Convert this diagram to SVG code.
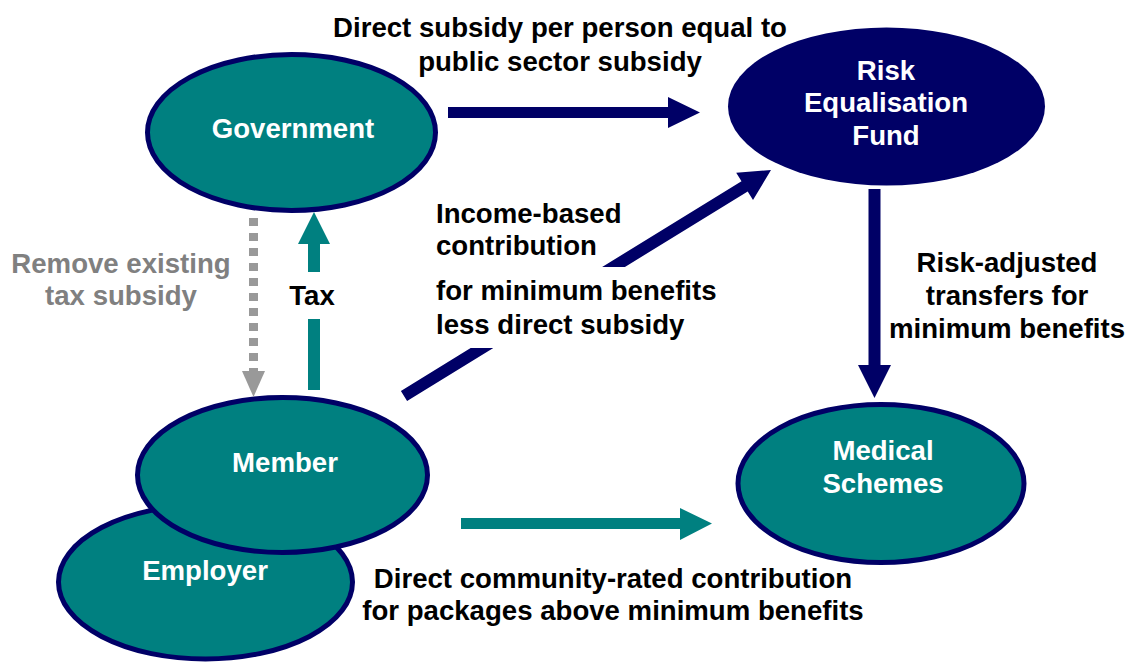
<svg xmlns="http://www.w3.org/2000/svg" width="1128" height="662" viewBox="0 0 1128 662">
<style>
text{font-family:"Liberation Sans",Arial,sans-serif;font-weight:bold;font-size:27.6px}
.w{fill:#ffffff}
.k{fill:#000000}
.g{fill:#808080}
.m{text-anchor:middle}
.teal{fill:#008080;stroke:#000066;stroke-width:5}
.navy{fill:#000066}
.tl{fill:#008080}
</style>
<defs>
<clipPath id="gap">
<rect x="0" y="0" width="1128" height="267"/>
<rect x="0" y="348" width="1128" height="314"/>
</clipPath>
</defs>
<rect width="1128" height="662" fill="#ffffff"/>
<g id="employer">
<ellipse class="teal" cx="205.5" cy="582" rx="147" ry="77"/>
<text class="w m" x="205" y="580">Employer</text>
</g>
<g id="member">
<ellipse class="teal" cx="282.5" cy="475" rx="145" ry="77.5"/>
<text class="w m" x="285" y="472">Member</text>
</g>
<g id="government">
<ellipse class="teal" cx="291.5" cy="132.5" rx="144" ry="78"/>
<text class="w m" x="293" y="138">Government</text>
</g>
<g id="risk-fund">
<ellipse class="navy" cx="886.5" cy="106.5" rx="158.5" ry="79"/>
<text class="w m" x="886" y="80">Risk</text>
<text class="w m" x="886" y="112">Equalisation</text>
<text class="w m" x="886" y="145">Fund</text>
</g>
<g id="medical-schemes">
<ellipse class="teal" cx="881" cy="483.5" rx="143" ry="79"/>
<text class="w m" x="883" y="460">Medical</text>
<text class="w m" x="883" y="493">Schemes</text>
</g>
<g id="connectors">
<polygon class="navy" points="448,107 668,107 668,97 700,112.5 668,128 668,118 448,118"/>
<polygon class="navy" clip-path="url(#gap)" points="400.9,390.9 741.5,181.2 736.2,172.7 771,170 753,199.9 747.7,191.4 407.1,401.1"/>
<polygon class="navy" points="868.5,189 880.5,189 880.5,365 891,365 874.5,398 858,365 868.5,365"/>
<polygon class="tl" points="308,272 320,272 320,244 330,244 314,212 298,244 308,244"/>
<rect class="tl" x="308" y="319" width="12" height="71"/>
<line x1="253.5" y1="218" x2="253.5" y2="371" stroke="#999999" stroke-width="9" stroke-dasharray="8 7"/>
<polygon fill="#999999" points="242,371 265,371 253.5,397"/>
<polygon class="tl" points="461,518 680,518 680,508 712,523.5 680,540 680,529 461,529"/>
</g>
<g id="labels">
<text class="k m" x="560" y="37">Direct subsidy per person equal to</text>
<text class="k m" x="560" y="71">public sector subsidy</text>
<text class="g m" x="121" y="273">Remove existing</text>
<text class="g m" x="121" y="305">tax subsidy</text>
<text class="k m" x="312" y="305">Tax</text>
<text class="k" x="436" y="223">Income-based</text>
<text class="k" x="436" y="255">contribution</text>
<text class="k" x="436" y="300">for minimum benefits</text>
<text class="k" x="436" y="334">less direct subsidy</text>
<text class="k m" x="1007" y="272">Risk-adjusted</text>
<text class="k m" x="1007" y="305">transfers for</text>
<text class="k m" x="1007" y="338">minimum benefits</text>
<text class="k m" x="613" y="588">Direct community-rated contribution</text>
<text class="k m" x="613" y="620">for packages above minimum benefits</text>
</g>
</svg>
